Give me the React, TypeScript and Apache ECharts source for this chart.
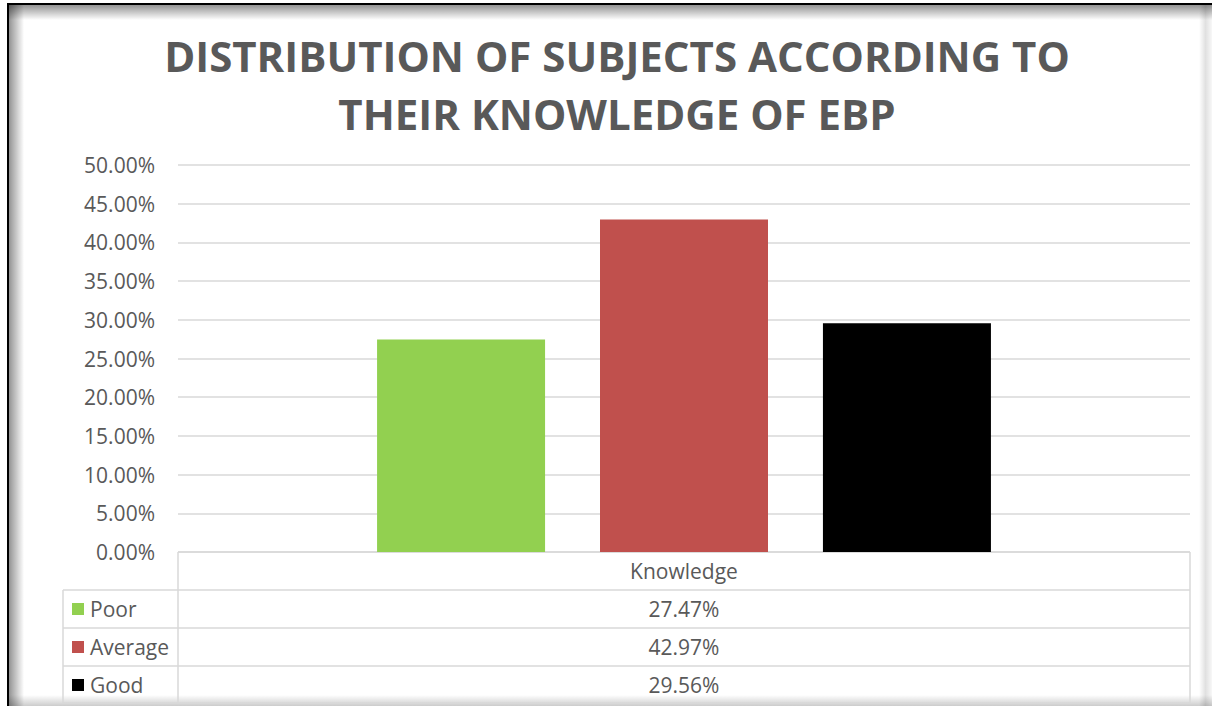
import React, { useEffect, useRef } from "react";
import * as echarts from "echarts";

const titleLines = ["DISTRIBUTION OF SUBJECTS ACCORDING TO", "THEIR KNOWLEDGE OF EBP"];
const categories = ["Knowledge"];
const seriesNames = ["Poor", "Average", "Good"];
const seriesValues = [0.2747, 0.4297, 0.2956];
const seriesColors = ["#92d050", "#c0504d", "#000000"];
const yMin = 0;
const yMax = 0.5;
const yInterval = 0.05;

const FONT = "'Open Sans', 'Noto Sans', sans-serif";
const TXT = "#595959";
const LINE = "#d9d9d9";

const pct = (v: number) => (v * 100).toFixed(2) + "%";

export default function App() {
  const ref = useRef<HTMLDivElement>(null);
  useEffect(() => {
    if (!ref.current) return;
    const chart = echarts.init(ref.current, null, { renderer: "svg" });
    const W = 1212;
    const plotL = 178, plotR = 1190, plotT = 165, plotB = 552;
    const rowH = 38;
    const tableL = 63;
    const graphics: any[] = [];

    // frame shadows
    graphics.push({
      type: "rect", shape: { x: 8, y: 4, width: W - 8, height: 16 }, silent: true,
      style: { fill: new echarts.graphic.LinearGradient(0, 0, 0, 1, [
        { offset: 0, color: "rgba(0,0,0,0.45)" }, { offset: 1, color: "rgba(0,0,0,0)" }]) },
    });
    graphics.push({
      type: "rect", shape: { x: 8, y: 4, width: 16, height: 702 }, silent: true,
      style: { fill: new echarts.graphic.LinearGradient(0, 0, 1, 0, [
        { offset: 0, color: "rgba(0,0,0,0.45)" }, { offset: 1, color: "rgba(0,0,0,0)" }]) },
    });
    graphics.push({
      type: "rect", shape: { x: 1199, y: 4, width: 13, height: 702 }, silent: true,
      style: { fill: new echarts.graphic.LinearGradient(0, 0, 1, 0, [
        { offset: 0, color: "rgba(0,0,0,0)" }, { offset: 0.5, color: "rgba(0,0,0,0.12)" }, { offset: 1, color: "rgba(0,0,0,0.03)" }]) },
    });
    graphics.push({
      type: "rect", shape: { x: 8, y: 695, width: W - 8, height: 11 }, silent: true,
      style: { fill: new echarts.graphic.LinearGradient(0, 0, 0, 1, [
        { offset: 0, color: "rgba(0,0,0,0)" }, { offset: 1, color: "rgba(0,0,0,0.2)" }]) },
    });
    graphics.push({ type: "line", shape: { x1: 7, y1: 4, x2: W, y2: 4 }, silent: true, style: { stroke: "#000", lineWidth: 2 } });
    graphics.push({ type: "line", shape: { x1: 8, y1: 4, x2: 8, y2: 706 }, silent: true, style: { stroke: "#000", lineWidth: 2 } });

    // title
    titleLines.forEach((t, i) => {
      graphics.push({
        type: "text", x: 617, y: 55 + i * 58, silent: true,
        style: { text: t, fill: TXT, font: `bold 42px ${FONT}`, textAlign: "center", textVerticalAlign: "middle" },
      });
    });

    // data table
    const ln = (x1: number, y1: number, x2: number, y2: number) =>
      graphics.push({ type: "line", silent: true, shape: { x1, y1, x2, y2 }, style: { stroke: LINE, lineWidth: 1.5 } });
    const nRows = seriesNames.length;
    const tableB = plotB + rowH * (nRows + 1) - 1;
    ln(plotL, plotB, plotR, plotB);
    ln(plotL, plotB, plotL, tableB);
    ln(plotR, plotB, plotR, tableB);
    ln(tableL, plotB + rowH, tableL, tableB);
    for (let r = 1; r <= nRows; r++) ln(tableL, plotB + rowH * r, plotR, plotB + rowH * r);
    ln(tableL, tableB, plotR, tableB);
    const cx = (plotL + plotR) / 2;
    graphics.push({
      type: "text", x: cx, y: plotB + rowH / 2, silent: true,
      style: { text: categories[0], fill: TXT, font: `21px ${FONT}`, textAlign: "center", textVerticalAlign: "middle" },
    });
    seriesNames.forEach((name, i) => {
      const cy = plotB + rowH * (i + 1) + rowH / 2;
      graphics.push({ type: "rect", silent: true, shape: { x: 72, y: cy - 6, width: 12, height: 12 }, style: { fill: seriesColors[i] } });
      graphics.push({
        type: "text", x: 90, y: cy, silent: true,
        style: { text: name, fill: TXT, font: `21px ${FONT}`, textAlign: "left", textVerticalAlign: "middle" },
      });
      graphics.push({
        type: "text", x: cx, y: cy, silent: true,
        style: { text: pct(seriesValues[i]), fill: TXT, font: `21px ${FONT}`, textAlign: "center", textVerticalAlign: "middle" },
      });
    });

    chart.setOption({
      animation: false,
      backgroundColor: "#ffffff",
      grid: { left: plotL, right: W - plotR, top: plotT, bottom: 706 - plotB, containLabel: false },
      xAxis: {
        type: "category", data: categories,
        axisLine: { show: false }, axisTick: { show: false }, axisLabel: { show: false }, splitLine: { show: false },
      },
      yAxis: {
        type: "value", min: yMin, max: yMax, interval: yInterval,
        axisLine: { show: false }, axisTick: { show: false },
        axisLabel: { formatter: (v: number) => pct(v), color: TXT, fontSize: 21, fontFamily: FONT, margin: 23 },
        splitLine: { lineStyle: { color: LINE, width: 1.5 } },
      },
      series: seriesNames.map((name, i) => ({
        name, type: "bar", data: [seriesValues[i]], barWidth: 168, barGap: "32.7%",
        itemStyle: { color: seriesColors[i] },
      })),
      graphic: graphics,
    });
    return () => chart.dispose();
  }, []);
  return <div ref={ref} style={{ position: "fixed", left: 0, top: 0, width: 1212, height: 706 }} />;
}
